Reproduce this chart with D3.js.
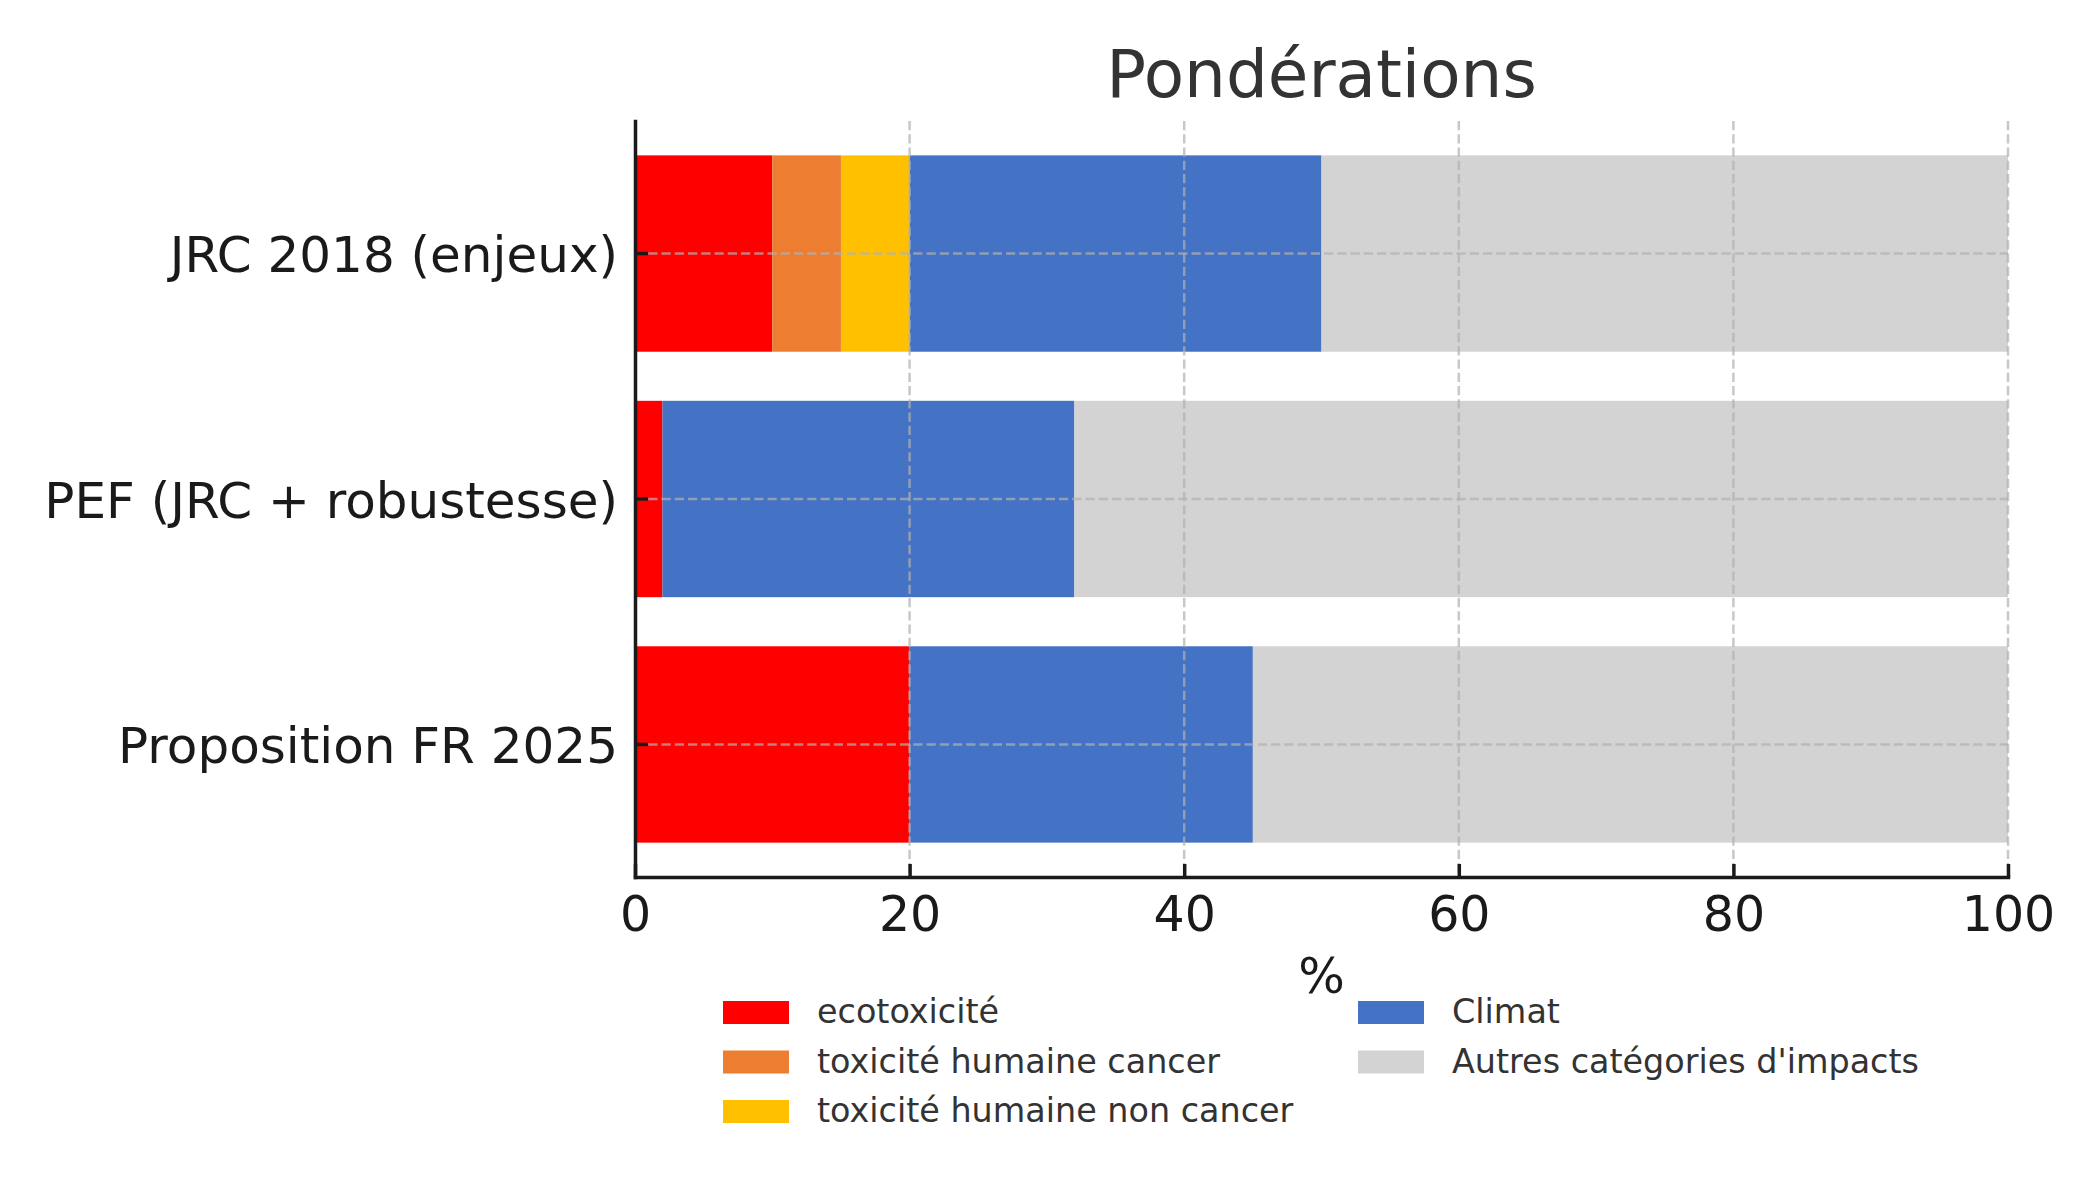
<!DOCTYPE html>
<html>
<head>
    <meta charset="utf-8">
    <title>Pondérations</title>
    <script src="https://d3js.org/d3.v7.min.js"></script>
    <style>
        body { margin: 0; background: #fff; }
        text { font-family: "DejaVu Sans", sans-serif; }
    </style>
</head>
<body>
<script>
    // data
    var categories = ["JRC 2018 (enjeux)", "PEF (JRC + robustesse)", "Proposition FR 2025"];
    var seriesNames = ["ecotoxicité", "toxicité humaine cancer", "toxicité humaine non cancer",
                       "Climat", "Autres catégories d'impacts"];
    var ecotox = [10, 2, 20];
    var toxCancer = [5, 0, 0];
    var toxNonCancer = [5, 0, 0];
    var climat = [30, 30, 25];
    var autres = [50, 68, 55];
    var colors = ["#ff0000", "#ed7d31", "#ffc000", "#4472c4", "#d3d3d3"];
    var xTicks = [0, 20, 40, 60, 80, 100];

    var width = 2100, height = 1200;
    // note: "top" is window.top, so use other names
    var plotLeft = 635, plotRight = 2008, plotTop = 121, plotBottom = 877;

    var svg = d3.select("body").append("svg")
        .attr("width", width)
        .attr("height", height);

    svg.append("rect").attr("width", width).attr("height", height).attr("fill", "#fff");

    // table for the stack
    var rows = categories.map(function(c, i) {
        var r = { cat: c };
        r[seriesNames[0]] = ecotox[i];
        r[seriesNames[1]] = toxCancer[i];
        r[seriesNames[2]] = toxNonCancer[i];
        r[seriesNames[3]] = climat[i];
        r[seriesNames[4]] = autres[i];
        return r;
    });
    var stacked = d3.stack().keys(seriesNames)(rows);

    var x = d3.scaleLinear().domain([0, 100]).range([plotLeft, plotRight]);
    var y = d3.scaleBand().domain(categories).range([plotTop, plotBottom])
        .paddingInner(0.2).paddingOuter(0.14);
    var color = d3.scaleOrdinal().domain(seriesNames).range(colors);

    // bars (skip empty segments)
    svg.append("g").selectAll("g")
        .data(stacked)
        .join("g")
        .attr("fill", function(d) { return color(d.key); })
        .selectAll("rect")
        .data(function(d) { return d.filter(function(s) { return s[1] > s[0]; }); })
        .join("rect")
        .attr("x", function(d) { return x(d[0]); })
        .attr("y", function(d) { return y(d.data.cat); })
        .attr("width", function(d) { return x(d[1]) - x(d[0]); })
        .attr("height", y.bandwidth());

    // grid on top of the bars, as in the reference
    var grid = svg.append("g")
        .attr("stroke", "#b0b0b0")
        .attr("stroke-opacity", 0.7)
        .attr("stroke-width", 2.5)
        .attr("stroke-dasharray", "9.25,4");
    grid.selectAll("line.v")
        .data(xTicks.slice(1))
        .join("line")
        .attr("class", "v")
        .attr("x1", function(d) { return x(d); })
        .attr("x2", function(d) { return x(d); })
        .attr("y1", plotTop)
        .attr("y2", plotBottom);
    grid.selectAll("line.h")
        .data(categories)
        .join("line")
        .attr("class", "h")
        .attr("x1", plotLeft)
        .attr("x2", plotRight)
        .attr("y1", function(d) { return y(d) + y.bandwidth() / 2; })
        .attr("y2", function(d) { return y(d) + y.bandwidth() / 2; });

    // axes
    var xAxis = svg.append("g")
        .attr("transform", "translate(0," + plotBottom + ")")
        .call(d3.axisBottom(x).tickValues(xTicks).tickSizeInner(-13).tickSizeOuter(0).tickPadding(19));
    var yAxis = svg.append("g")
        .attr("transform", "translate(" + plotLeft + ",0)")
        .call(d3.axisLeft(y).tickSizeInner(-13).tickSizeOuter(0).tickPadding(17));

    [xAxis, yAxis].forEach(function(ax) {
        ax.select(".domain").attr("stroke", "#1a1a1a").attr("stroke-width", 3.5)
            .attr("stroke-linecap", "square");
        ax.selectAll(".tick line").attr("stroke", "#1a1a1a").attr("stroke-width", 3.5);
        ax.selectAll(".tick text")
            .attr("fill", "#1a1a1a")
            .attr("font-size", "49px")
            .attr("font-family", "DejaVu Sans");
    });
    yAxis.selectAll(".tick text").attr("dy", "0.37em").attr("font-size", "50px");

    // title and axis label
    svg.append("text")
        .attr("x", (plotLeft + plotRight) / 2)
        .attr("y", 97)
        .attr("text-anchor", "middle")
        .attr("font-size", "66px")
        .attr("fill", "#333")
        .text("Pondérations");

    svg.append("text")
        .attr("x", (plotLeft + plotRight) / 2)
        .attr("y", 993)
        .attr("text-anchor", "middle")
        .attr("font-size", "49px")
        .attr("fill", "#1a1a1a")
        .text("%");

    // legend, two columns filled top to bottom
    var legendCols = [723, 1358], legendTop = 1001, legendStep = 49.5;
    var legend = svg.append("g").selectAll("g")
        .data(seriesNames)
        .join("g")
        .attr("transform", function(d, i) {
            var col = i < 3 ? 0 : 1, row = i < 3 ? i : i - 3;
            return "translate(" + legendCols[col] + "," + (legendTop + row * legendStep) + ")";
        });
    legend.append("rect")
        .attr("width", 66)
        .attr("height", 23)
        .attr("fill", function(d) { return color(d); });
    legend.append("text")
        .attr("x", 94)
        .attr("y", 22)
        .attr("font-size", "33.4px")
        .attr("fill", "#333")
        .text(function(d) { return d; });
</script>
</body>
</html>
